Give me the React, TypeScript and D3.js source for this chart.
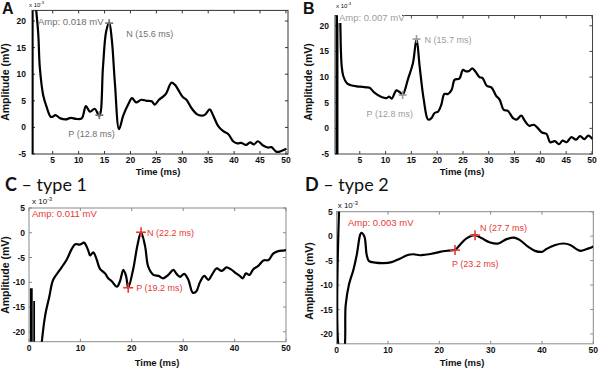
import * as d3 from 'd3';

// panel A
const timeA = [1.6, 2.2, 2.5, 3.15, 3.8, 4.6, 5.0, 5.5, 6.5, 7.5, 8.5, 9.5, 10.6, 11.4, 12.2, 13.1, 14.0, 14.7, 15.3, 15.9, 16.4, 17.0, 17.8, 18.6, 19.6, 20.3, 21.1, 22.1, 23.1, 24.1, 24.7, 25.5, 26.3, 26.9, 27.9, 28.6, 29.2, 30.1, 30.8, 31.8, 32.8, 33.7, 34.4, 35.3, 35.9, 36.9, 37.9, 38.9, 39.8, 40.6, 41.4, 42.3, 43.1, 43.8, 44.6, 45.6, 46.6, 47.2, 48.2, 49.2, 50.1];
const ampA = [24, 17.7, 11.4, 6.1, 3.9, 2.0, 2.0, 2.3, 1.7, 1.5, 1.8, 1.6, 1.7, 4.0, 2.95, 3.5, 2.2, 11.4, 18.0, 19.7, 16.5, 8.3, -0.35, 2.2, 4.4, 5.5, 4.7, 5.2, 5.0, 4.9, 4.3, 5.2, 5.8, 6.4, 8.4, 8.0, 7.1, 5.7, 5.2, 3.6, 2.5, 2.2, 2.4, 3.4, 2.4, 0.3, -0.7, -1.3, -2.6, -3.0, -2.9, -3.3, -2.8, -3.2, -2.6, -3.4, -3.8, -3.7, -4.6, -4.4, -4.0];

// panel B
const timeB = [0.9, 1.15, 1.35, 1.5, 1.8, 2.5, 3.3, 4.4, 5.5, 6.3, 6.9, 7.9, 9.2, 10.2, 10.7, 11.2, 12.1, 12.8, 13.3, 14.4, 15.3, 16.0, 16.6, 17.4, 18.25, 18.9, 19.5, 20.2, 20.8, 21.4, 22.1, 22.8, 23.4, 24.3, 25.0, 25.6, 26.2, 26.8, 27.4, 28.2, 28.8, 29.6, 30.5, 31.4, 32.1, 32.9, 33.7, 34.7, 35.4, 36.3, 36.9, 37.8, 38.7, 39.5, 40.3, 41.2, 41.9, 42.8, 43.6, 44.3, 45.1, 46.0, 46.9, 47.7, 48.5, 49.3, 50.1];
const ampB = [26, 23, 15, 12.1, 10.2, 8.8, 8.4, 8.2, 8.1, 8.0, 7.9, 6.9, 6.1, 5.9, 6.2, 5.8, 7.4, 7.0, 6.5, 9.8, 12.7, 17.4, 12.1, 5.6, 1.7, 2.0, 3.0, 3.3, 4.6, 6.7, 6.7, 7.5, 9.5, 9.7, 11.4, 11.1, 11.2, 11.7, 11.1, 10.0, 9.8, 8.3, 8.0, 6.4, 5.6, 3.6, 3.4, 2.0, 1.7, 2.5, 1.6, 0.5, 0.7, 0.05, -0.8, -1.1, -2.7, -2.5, -3.1, -2.4, -2.7, -1.7, -2.2, -1.5, -2.1, -1.4, -2.1];

// panel C
const timeC = [2.3, 3.1, 3.95, 4.7, 6.0, 7.3, 8.3, 9.0, 9.9, 10.7, 11.5, 11.9, 12.5, 13.2, 13.8, 14.8, 15.4, 16.1, 17.1, 17.7, 18.35, 18.9, 19.3, 20.3, 21.1, 21.8, 22.6, 23.2, 24.2, 25.2, 26.1, 27.1, 28.1, 28.7, 29.4, 30.2, 31.0, 31.85, 32.5, 33.3, 34.1, 34.9, 35.7, 36.5, 37.5, 38.45, 39.3, 40.3, 41.0, 41.6, 42.2, 42.9, 43.6, 44.6, 45.6, 46.6, 47.5, 48.5, 49.5, 50];
const ampC = [-24, -17, -12.9, -9.5, -7.5, -5.5, -3.3, -2.3, -2.4, -2.0, -3.5, -4.6, -3.95, -5.5, -7.3, -8.2, -9.2, -9.8, -10.9, -9.8, -7.5, -8.8, -11.1, -7.2, -2.5, 0.1, -2.8, -6.85, -8.5, -8.7, -9.2, -8.5, -7.5, -8.3, -8.9, -8.3, -9.5, -12.1, -11.9, -9.9, -8.7, -9.5, -8.3, -7.2, -7.7, -7.0, -7.4, -8.2, -8.7, -9.2, -8.2, -8.5, -7.4, -6.7, -5.6, -5.5, -4.2, -3.7, -3.6, -3.5];

// panel D
const timeD = [0.55, 0.7, 1.3, 1.75, 2.4, 3.25, 3.9, 4.55, 4.8, 5.4, 5.85, 6.3, 7.5, 9.1, 10.7, 12.3, 14.0, 15.0, 16.2, 17.2, 18.5, 20.1, 21.75, 23.06, 24.0, 25.3, 26.96, 28.3, 29.9, 31.5, 33.1, 34.6, 35.7, 37.35, 38.65, 40.0, 40.9, 42.6, 44.2, 45.5, 46.8, 47.6, 49.1, 50];
const ampD = [8, -24, -24, -14.1, -9.85, -6.9, -3.85, 0.2, 0.7, -0.1, -3.85, -5.1, -5.4, -5.5, -5.3, -4.6, -3.8, -3.7, -3.9, -3.8, -3.6, -3.2, -2.95, -2.8, -1.8, -0.45, 0.2, -0.45, -1.3, -1.5, -0.6, -0.3, -0.8, -2.2, -3.0, -3.2, -2.6, -1.8, -1.5, -1.8, -2.7, -3.0, -2.5, -2.1];

// stimulus artifact bars: time, top value
const artifactA = [{ t: 1.05, top: 22 }];
const artifactB = [{ t: 0.6, top: 22 }];
const artifactC = [{ t: 0.45, top: -11.2 }, { t: 1.0, top: -13.8 }];
const artifactD: { t: number; top: number }[] = [];

// P / N markers
const peaksA = [{ name: 'P (12.8 ms)', t: 14.0, v: 2.3 }, { name: 'N (15.6 ms)', t: 15.9, v: 19.6 }];
const peaksB = [{ name: 'P (12.8 ms)', t: 13.3, v: 6.5 }, { name: 'N (15.7 ms)', t: 16.0, v: 17.4 }];
const peaksC = [{ name: 'P (19.2 ms)', t: 19.3, v: -11.1 }, { name: 'N (22.2 ms)', t: 21.8, v: 0.1 }];
const peaksD = [{ name: 'P (23.2 ms)', t: 23.06, v: -2.85 }, { name: 'N (27.7 ms)', t: 26.96, v: 0.2 }];

const ampLabels = ['Amp: 0.018 mV', 'Amp: 0.007 mV', 'Amp: 0.011 mV', 'Amp: 0.003 mV'];

const ticksTop = [5, 10, 15, 20, 25, 30, 35, 40, 45, 50];
const ticksBottom = [0, 10, 20, 30, 40, 50];
const yTicksTop = [-5, 0, 5, 10, 15, 20];
const yTicksBottom = [-20, -15, -10, -5, 0, 5];

const FONT = "'Liberation Sans', Arial, sans-serif";

function Panel(props: any) {
  const { id, box, xDomain, yDomain, xTicks, yTicks, time, amp, artifacts, peaks, ampText, ampPos, labelOff, color, boxColor, markSize, ampBg } = props;
  const x = d3.scaleLinear().domain(xDomain).range([box.left, box.right]);
  const y = d3.scaleLinear().domain(yDomain).range([box.bottom, box.top]);
  const pts = time.map((t: number, i: number) => [t, amp[i]] as [number, number]);
  const line = d3.line<[number, number]>().x(d => x(d[0])).y(d => y(d[1])).curve(d3.curveCatmullRom.alpha(0.5));
  const tl = 3;
  return (
    <g>
      <defs>
        <clipPath id={`clip-${id}`}>
          <rect x={box.left} y={box.top} width={box.right - box.left} height={box.bottom - box.top} />
        </clipPath>
      </defs>
      <rect x={box.left} y={box.top} width={box.right - box.left} height={box.bottom - box.top} fill="white" stroke={boxColor} strokeWidth={1} />
      {xTicks.map((t: number) => (
        <g key={`x${t}`}>
          <line x1={x(t)} x2={x(t)} y1={box.bottom} y2={box.bottom - tl} stroke={boxColor} />
          <line x1={x(t)} x2={x(t)} y1={box.top} y2={box.top + tl} stroke={boxColor} />
          <text x={x(t)} y={box.bottom + 9} textAnchor="middle" fontFamily={FONT} fontWeight="bold" fontSize={8.5} fill="#111">{t}</text>
        </g>
      ))}
      {yTicks.map((t: number) => (
        <g key={`y${t}`}>
          <line x1={box.left} x2={box.left + tl} y1={y(t)} y2={y(t)} stroke={boxColor} />
          <line x1={box.right} x2={box.right - tl} y1={y(t)} y2={y(t)} stroke={boxColor} />
          <text x={box.left - props.yLabelGap} y={y(t) + 3} textAnchor="end" fontFamily={FONT} fontWeight="bold" fontSize={8.5} fill="#111">{t}</text>
        </g>
      ))}
      <g clipPath={`url(#clip-${id})`}>
        {artifacts.map((a: any, i: number) => (
          <line key={i} x1={x(a.t)} x2={x(a.t)} y1={y(yDomain[0])} y2={y(a.top)} stroke="black" strokeWidth={i === 0 ? 2.8 : 1.8} />
        ))}
        <path d={line(pts) || ''} fill="none" stroke="black" strokeWidth={2.2} strokeLinejoin="round" />
      </g>
      {ampBg && <rect x={ampPos[0] - 1} y={ampPos[1] - 8} width={64} height={10} fill="white" />}
      <text x={ampPos[0]} y={ampPos[1]} fontFamily={FONT} fontSize={9.5} fill={color}>{ampText}</text>
      {peaks.map((p: any, i: number) => {
        const px = x(p.t), py = y(p.v);
        return (
          <g key={p.name}>
            <line x1={px - markSize} x2={px + markSize} y1={py} y2={py} stroke={color} strokeWidth={1.6} />
            <line x1={px} x2={px} y1={py - markSize} y2={py + markSize} stroke={color} strokeWidth={1.6} />
            <text x={px + labelOff[i][0]} y={py + labelOff[i][1]} fontFamily={FONT} fontSize={9} fill={color}>{p.name}</text>
          </g>
        );
      })}
      <text x={box.left + props.expOff[0]} y={box.top + props.expOff[1]} fontFamily={FONT} fontSize={props.expSize} fill="#111">
        {'x 10'}<tspan dy={-3} fontSize={props.expSize * 0.7}>-3</tspan>
      </text>
      <text transform={`translate(${props.ampAxis[0]},${props.ampAxis[1]}) rotate(-90)`} textAnchor="middle" fontFamily={FONT} fontWeight="bold" fontSize={10.5} fill="#111">Amplitude (mV)</text>
      <text x={props.timeAxis[0]} y={props.timeAxis[1]} textAnchor="middle" fontFamily={FONT} fontWeight="bold" fontSize={9.5} fill="#111">Time (ms)</text>
    </g>
  );
}

export default function App() {
  return (
    <svg width={600} height={372} style={{ display: 'block', position: 'absolute', left: 0, top: 0, background: 'white' }}>
      <rect width={600} height={372} fill="white" />
      <text x={2} y={14} fontFamily={FONT} fontWeight="bold" fontSize={16} fill="#111">A</text>
      <text x={303} y={14} fontFamily={FONT} fontWeight="bold" fontSize={16} fill="#111">B</text>
      <text x={5} y={191} fontFamily="Lato, 'Open Sans', sans-serif" fontSize={18} fill="#111"><tspan fontWeight="bold">C</tspan>{' – type 1'}</text>
      <text x={305} y={191} fontFamily="Lato, 'Open Sans', sans-serif" fontSize={18} fill="#111"><tspan fontWeight="bold">D</tspan>{' – type 2'}</text>

      <Panel id="a" box={{ left: 32, right: 288, top: 10.4, bottom: 154 }} xDomain={[1, 50.4]} yDomain={[-5, 22]}
        xTicks={ticksTop} yTicks={yTicksTop} time={timeA} amp={ampA} artifacts={artifactA} peaks={peaksA}
        ampText={ampLabels[0]} ampPos={[38, 24.5]} labelOff={[[-31, 21.5], [17, 13.5]]} color="#707070" boxColor="#333"
        markSize={4} yLabelGap={6} expOff={[-3, -3.5]} expSize={6} ampAxis={[9, 82]} timeAxis={[158, 175]} />
      <Panel id="b" box={{ left: 335, right: 592.5, top: 15.5, bottom: 154 }} xDomain={[0.2, 50.1]} yDomain={[-5, 22]}
        xTicks={ticksTop} yTicks={yTicksTop} time={timeB} amp={ampB} artifacts={artifactB} peaks={peaksB}
        ampText={ampLabels[1]} ampPos={[339, 21]} labelOff={[[-36, 21.5], [8, 4]]} color="#9c9c9c" boxColor="#444"
        markSize={4} yLabelGap={6} expOff={[1, -8]} expSize={6} ampAxis={[312, 82]} timeAxis={[462, 175]} ampBg />
      <Panel id="c" box={{ left: 29, right: 286, top: 208, bottom: 341.7 }} xDomain={[0, 50]} yDomain={[-22, 5]}
        xTicks={ticksBottom} yTicks={yTicksBottom} time={timeC} amp={ampC} artifacts={artifactC} peaks={peaksC}
        ampText={ampLabels[2]} ampPos={[32, 216.5]} labelOff={[[8, 3.5], [6, 3.5]]} color="#e53935" boxColor="#8a8a8a"
        markSize={5} yLabelGap={4} expOff={[3, -4]} expSize={8} ampAxis={[9, 275]} timeAxis={[157, 366]} />
      <Panel id="d" box={{ left: 336.7, right: 593.3, top: 211.7, bottom: 343.8 }} xDomain={[0, 50]} yDomain={[-22, 5]}
        xTicks={ticksBottom} yTicks={yTicksBottom} time={timeD} amp={ampD} artifacts={artifactD} peaks={peaksD}
        ampText={ampLabels[3]} ampPos={[348, 225.5]} labelOff={[[-3, 16.5], [5, -4.5]]} color="#e53935" boxColor="#8a8a8a"
        markSize={5} yLabelGap={4} expOff={[1, -4]} expSize={8} ampAxis={[313, 281]} timeAxis={[462, 366]} />
    </svg>
  );
}
